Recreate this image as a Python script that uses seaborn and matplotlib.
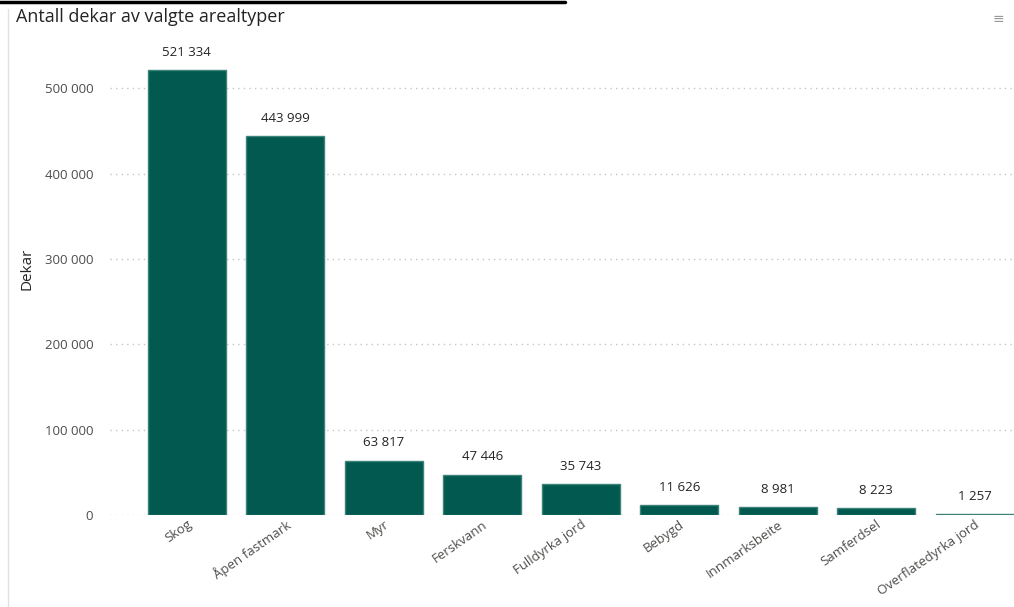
import matplotlib
matplotlib.use("Agg")
from matplotlib import pyplot as plt
from matplotlib.lines import Line2D
import seaborn as sns
import pandas as pd

# Data
arealtyper = ["Skog", "Åpen fastmark", "Myr", "Ferskvann", "Fulldyrka jord",
              "Bebygd", "Innmarksbeite", "Samferdsel", "Overflatedyrka jord"]
dekar = [521334, 443999, 63817, 47446, 35743, 11626, 8981, 8223, 1257]
y_ticks = [0, 100000, 200000, 300000, 400000, 500000]

df = pd.DataFrame({"Arealtype": arealtyper, "Dekar": dekar})

def fmt(v):
    # Norwegian style thousands separator (space)
    return f"{v:,.0f}".replace(",", " ")

sns.set_style("white")
plt.rcParams['font.family'] = ['Open Sans', 'DejaVu Sans']

fig = plt.figure(figsize=(10.14, 6.07), dpi=100)
ax = fig.add_axes([0.1085, 0.1516, 0.8915, 0.766])

sns.barplot(data=df, x="Arealtype", y="Dekar", color="#01594F",
            saturation=1, width=0.79, ax=ax, zorder=3,
            edgecolor="#3E8379", linewidth=1)

# Data labels above bars
for i, v in enumerate(dekar):
    ax.annotate(fmt(v), (i, v), xytext=(0, 8), textcoords="offset points",
                ha="center", va="bottom", fontsize=9.5, color="#252423")

ax.set_xlim(-0.78, 8.40)
ax.set_ylim(0, 545000)
ax.set_yticks(y_ticks)
ax.set_yticklabels([fmt(t) for t in y_ticks], fontsize=9.5, color="#4F4D4B")
ax.yaxis.grid(True, linestyle=(0, (1, 3)), color="#C8C6C4", linewidth=1, zorder=0)
ax.tick_params(axis="y", length=0, pad=12)
ax.tick_params(axis="x", length=0, pad=2)
plt.setp(ax.get_xticklabels(), rotation=35, ha="right", rotation_mode="anchor",
         fontsize=9.5, color="#4F4D4B")
for s in ax.spines.values():
    s.set_visible(False)

ax.set_xlabel("")
ax.set_ylabel("Dekar", fontsize=11, color="#252423", labelpad=6)
ax.yaxis.set_label_coords(-0.083, 0.53)

fig.text(0.016, 0.972, "Antall dekar av valgte arealtyper", fontsize=13,
         color="#252423", ha="left", va="center")
fig.text(0.985, 0.968, "≡", fontsize=10, color="#999999", ha="center", va="center")

# frame bits from the screenshot
fig.add_artist(Line2D([0.0, 0.557], [0.997, 0.997], color="black", linewidth=2.5))
fig.add_artist(Line2D([0.008, 0.008], [0.0, 0.985], color="#E1E1E1", linewidth=1))

plt.savefig("out.png", dpi=100)
